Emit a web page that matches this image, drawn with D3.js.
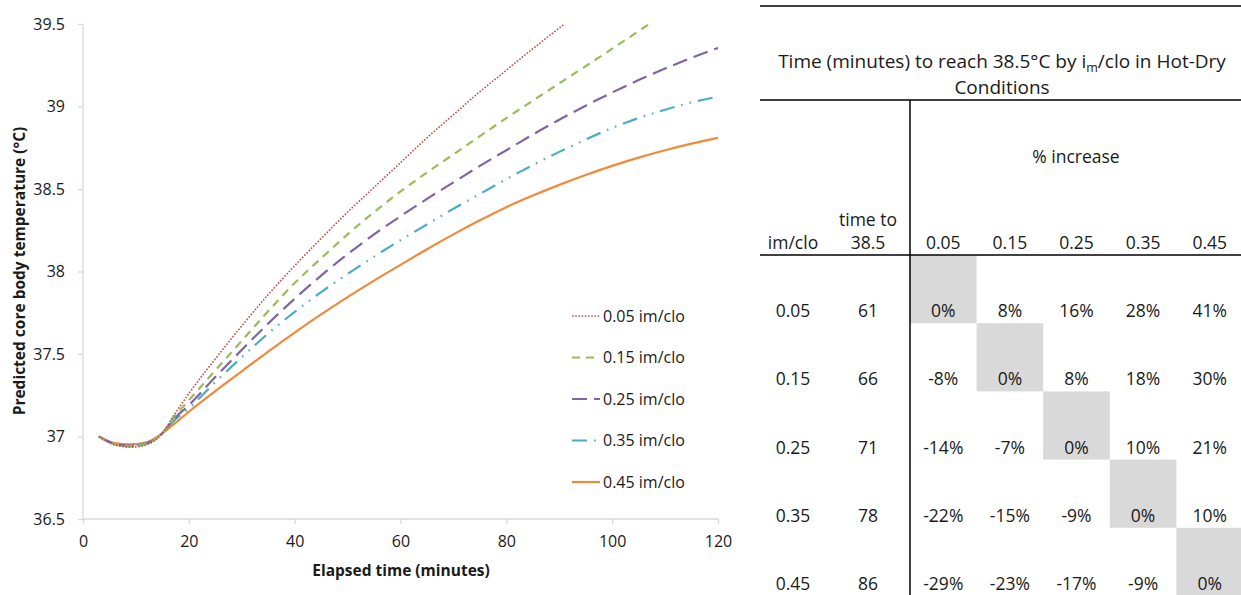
<!DOCTYPE html>
<html>
<head>
<meta charset="utf-8">
<script src="https://cdn.jsdelivr.net/npm/d3@7/dist/d3.min.js"></script>
<style>
  html, body { margin: 0; padding: 0; background: #fff; }
  svg { display: block; }
  text { font-family: "Open Sans", "Noto Sans", sans-serif; fill: #1a1a1a; }
</style>
</head>
<body>
<svg id="chart" width="1241" height="595"></svg>
<script>
// ---------------- DATA ----------------
const seriesNames = ["0.05 im/clo", "0.15 im/clo", "0.25 im/clo", "0.35 im/clo", "0.45 im/clo"];

const time005 = [3,6,9,12,15,17,20,25,30,35,40,45,50,55,60,65,70,75,80,85,91];
const temp005 = [37.00,36.95,36.935,36.95,37.02,37.12,37.26,37.47,37.67,37.86,38.035,38.20,38.36,38.51,38.66,38.81,38.95,39.09,39.22,39.35,39.50];

const time015 = [3,6,9,12,15,17,20,25,30,35,40,45,50,55,60,65,70,75,80,85,90,95,100,107];
const temp015 = [37.00,36.952,36.94,36.955,37.02,37.11,37.22,37.40,37.58,37.76,37.93,38.08,38.225,38.36,38.485,38.60,38.71,38.82,38.93,39.035,39.14,39.245,39.35,39.50];

const time025 = [3,6,9,12,15,17,20,25,30,35,40,45,50,55,60,65,70,75,80,85,90,95,100,105,110,115,120];
const temp025 = [37.00,36.955,36.943,36.958,37.02,37.10,37.19,37.36,37.525,37.685,37.835,37.975,38.105,38.225,38.335,38.44,38.54,38.64,38.735,38.83,38.92,39.005,39.085,39.16,39.23,39.295,39.355];

const time035 = [3,6,9,12,15,17,20,25,30,35,40,45,50,55,60,65,70,75,80,85,90,95,100,105,110,115,120];
const temp035 = [37.00,36.957,36.947,36.96,37.02,37.09,37.17,37.33,37.48,37.625,37.755,37.875,37.985,38.09,38.19,38.285,38.38,38.47,38.56,38.645,38.725,38.80,38.87,38.93,38.98,39.025,39.06];

const time045 = [3,6,9,12,15,17,20,25,30,35,40,45,50,55,60,65,70,75,80,85,90,95,100,105,110,115,120];
const temp045 = [37.00,36.96,36.952,36.965,37.02,37.07,37.15,37.275,37.395,37.515,37.63,37.74,37.845,37.945,38.04,38.135,38.225,38.31,38.39,38.46,38.525,38.585,38.64,38.69,38.735,38.775,38.81];

const xTicks = [0,20,40,60,80,100,120];
const yTicks = [36.5,37,37.5,38,38.5,39,39.5];

const tableTitle = "Time (minutes) to reach 38.5°C by i";
const imCloLabels = ["0.05","0.15","0.25","0.35","0.45"];
const timeTo385 = [61,66,71,78,86];
const pctIncrease = [
  [0, 8, 16, 28, 41],
  [-8, 0, 8, 18, 30],
  [-14, -7, 0, 10, 21],
  [-22, -15, -9, 0, 10],
  [-29, -23, -17, -9, 0]
];

// ---------------- STYLES ----------------
const colors = ["#C0504D", "#9BBB59", "#8064A2", "#4BACC6", "#F08A3A"];
const dashes = ["1.6,1.6", "8,6", "15,7", "15,7,1.6,7,1.6,7", null];
const widths = [1.6, 2.2, 2.2, 2.2, 2.2];

const series = [
  {t: time005, v: temp005},
  {t: time015, v: temp015},
  {t: time025, v: temp025},
  {t: time035, v: temp035},
  {t: time045, v: temp045}
].map((s, i) => ({name: seriesNames[i], pts: s.t.map((t, j) => [t, s.v[j]])}));

const svg = d3.select("#chart");

// ---------------- LINE CHART ----------------
const x = d3.scaleLinear().domain([0, 120]).range([83, 718]);
const y = d3.scaleLinear().domain([36.5, 39.5]).range([519, 24]);

const gx = svg.append("g").attr("transform", "translate(0,519)")
  .call(d3.axisBottom(x).tickValues(xTicks).tickSize(5).tickPadding(12).tickFormat(d3.format("d")));
const gy = svg.append("g").attr("transform", "translate(83,0)")
  .call(d3.axisLeft(y).tickValues(yTicks).tickSize(5).tickPadding(13).tickFormat(d => String(d)));
[gx, gy].forEach(g => {
  g.selectAll("path, line").attr("stroke", "#d9d9d9").attr("stroke-width", 1.3);
  g.selectAll("text").style("font-size", "16px").attr("fill", "#1a1a1a");
});
gx.select(".domain").attr("d", "M83,0H718");
gy.select(".domain").attr("d", "M0,519V24");

svg.append("text").attr("x", 401).attr("y", 576).attr("text-anchor", "middle")
  .style("font-size", "15.5px").style("font-weight", "bold").text("Elapsed time (minutes)");
svg.append("text").attr("transform", "translate(25,271) rotate(-90)").attr("text-anchor", "middle")
  .style("font-size", "15.5px").style("font-weight", "bold").text("Predicted core body temperature (°C)");

const line = d3.line().x(d => x(d[0])).y(d => y(d[1])).curve(d3.curveMonotoneX);
series.slice().reverse().forEach((s) => {
  const i = seriesNames.indexOf(s.name);
  svg.append("path").datum(s.pts).attr("d", line)
    .attr("fill", "none").attr("stroke", colors[i]).attr("stroke-width", widths[i])
    .attr("stroke-dasharray", dashes[i]);
});

// legend
const legY = d3.scalePoint().domain(seriesNames).range([316, 482]);
seriesNames.forEach((n, i) => {
  svg.append("line").attr("x1", 572).attr("x2", 600).attr("y1", legY(n)).attr("y2", legY(n))
    .attr("stroke", colors[i]).attr("stroke-width", widths[i]).attr("stroke-dasharray", dashes[i]);
  svg.append("text").attr("x", 603).attr("y", legY(n)).attr("dy", "0.36em")
    .style("font-size", "16px").text(n);
});

// ---------------- TABLE ----------------
const tL = 760, tR = 1241, vX = 910;
const cols = d3.scaleBand().domain(imCloLabels).range([vX, 1243]);
const rows = d3.scaleBand().domain(imCloLabels).range([255, 596]);

// gray diagonal cells
imCloLabels.forEach((c, i) => {
  svg.append("rect").attr("x", cols(c)).attr("y", rows(c)).attr("width", cols.bandwidth()).attr("height", rows.bandwidth())
    .attr("fill", "#d9d9d9");
});

// rules
svg.append("line").attr("x1", tL).attr("x2", tR).attr("y1", 6).attr("y2", 6).attr("stroke", "#000").attr("stroke-width", 1.5);
svg.append("line").attr("x1", tL).attr("x2", tR).attr("y1", 100).attr("y2", 100).attr("stroke", "#000").attr("stroke-width", 1.5);
svg.append("line").attr("x1", tL).attr("x2", tR).attr("y1", 255).attr("y2", 255).attr("stroke", "#000").attr("stroke-width", 1.5);
svg.append("line").attr("x1", vX).attr("x2", vX).attr("y1", 100).attr("y2", 595).attr("stroke", "#000").attr("stroke-width", 1.5);

const fs = "17.5px";
const fsTitle = "19px";
// title
const t1 = svg.append("text").attr("x", 1002).attr("y", 68).attr("text-anchor", "middle").style("font-size", fsTitle);
t1.append("tspan").text(tableTitle);
t1.append("tspan").attr("dy", 4).style("font-size", "12.5px").text("m");
t1.append("tspan").attr("dy", -4).text("/clo in Hot-Dry");
svg.append("text").attr("x", 1002).attr("y", 94).attr("text-anchor", "middle").style("font-size", fsTitle).text("Conditions");

svg.append("text").attr("x", 1076).attr("y", 163).attr("text-anchor", "middle").style("font-size", fs).text("% increase");
svg.append("text").attr("x", 868).attr("y", 226).attr("text-anchor", "middle").style("font-size", fs).text("time to");
svg.append("text").attr("x", 868).attr("y", 249).attr("text-anchor", "middle").style("font-size", fs).text("38.5");
svg.append("text").attr("x", 793).attr("y", 249).attr("text-anchor", "middle").style("font-size", fs).text("im/clo");
imCloLabels.forEach(c => {
  svg.append("text").attr("x", cols(c) + cols.bandwidth() / 2).attr("y", 249).attr("text-anchor", "middle").style("font-size", fs).text(c);
});

imCloLabels.forEach((r, i) => {
  const by = rows(r) + rows.bandwidth() - 6;
  svg.append("text").attr("x", 793).attr("y", by).attr("text-anchor", "middle").style("font-size", fs).text(r);
  svg.append("text").attr("x", 868).attr("y", by).attr("text-anchor", "middle").style("font-size", fs).text(timeTo385[i]);
  imCloLabels.forEach((c, j) => {
    svg.append("text").attr("x", cols(c) + cols.bandwidth() / 2).attr("y", by).attr("text-anchor", "middle")
      .style("font-size", fs).text(pctIncrease[i][j] + "%");
  });
});
</script>
</body>
</html>
